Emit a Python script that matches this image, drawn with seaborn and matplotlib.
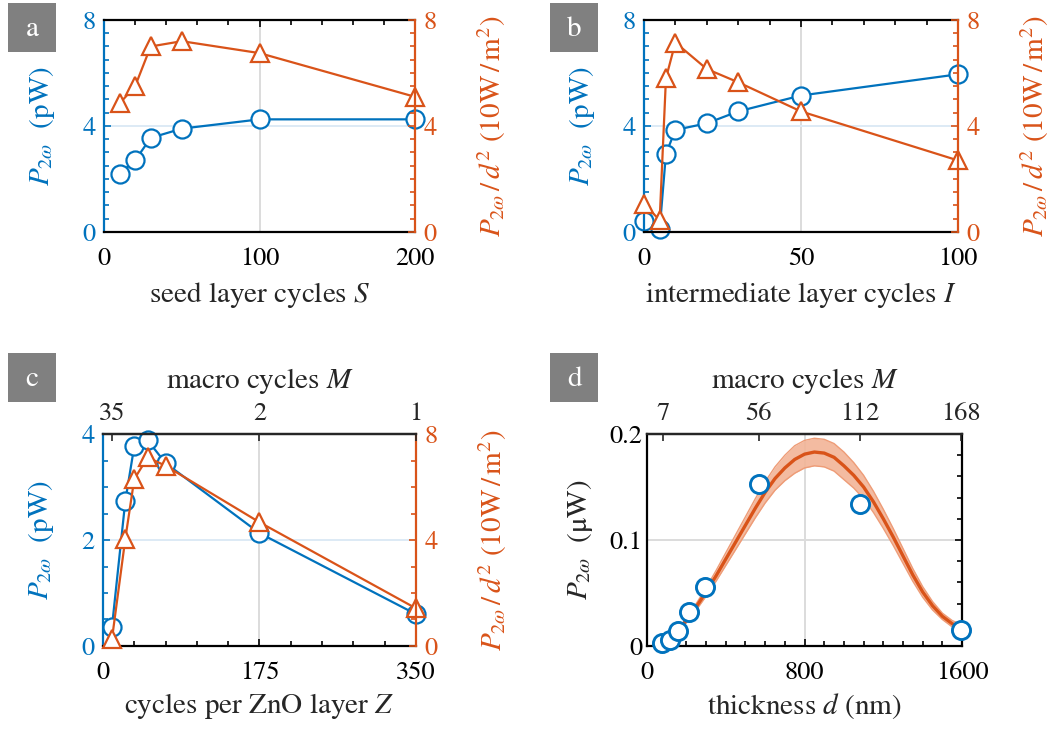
import numpy as np
import pandas as pd
import seaborn as sns
import matplotlib.pyplot as plt
from matplotlib.ticker import MultipleLocator
from matplotlib.patches import Rectangle

blue = '#0072BD'
orange = '#D95319'
grid_gray = '#DCDCDC'
grid_blue = '#DDEAF5'

# (a) seed layer cycles
seed_S = [10, 20, 30, 50, 100, 200]
seed_P = [2.2, 2.7, 3.55, 3.9, 4.25, 4.25]
seed_Pd2 = [4.85, 5.5, 7.0, 7.2, 6.75, 5.1]

# (b) intermediate layer cycles
inter_I = [0, 5, 7, 10, 20, 30, 50, 100]
inter_P = [0.4, 0.1, 2.95, 3.85, 4.1, 4.55, 5.15, 5.95]
inter_Pd2 = [1.05, 0.45, 5.8, 7.15, 6.15, 5.65, 4.55, 2.7]

# (c) cycles per ZnO layer
zno_Z = [10, 25, 35, 50, 70, 175, 350]
zno_P = [0.35, 2.74, 3.77, 3.88, 3.45, 2.13, 0.6]
zno_Pd2 = [0.25, 4.05, 6.3, 7.12, 6.8, 4.67, 1.42]
macro_c_pos = [10, 175, 350]
macro_c_lab = ['35', '2', '1']

# (d) thickness
thick_d = [78, 115, 158, 215, 293, 568, 1081, 1595]
thick_P = [0.0025, 0.0057, 0.0138, 0.0318, 0.056, 0.1526, 0.1337, 0.0155]
macro_d_pos = [80, 568, 1081, 1595]
macro_d_lab = ['7', '56', '112', '168']

# fit curve and confidence band
fit_d = [30, 50, 100, 150, 200, 250, 300, 350, 400, 450, 500, 550, 600, 650,
         700, 750, 800, 850, 900, 950, 1000, 1050, 1100, 1150, 1200, 1250,
         1300, 1350, 1400, 1450, 1500, 1550, 1600]
fit_P = [0.000, 0.002, 0.007, 0.014, 0.024, 0.037, 0.051, 0.066, 0.082, 0.098,
         0.114, 0.130, 0.145, 0.158, 0.168, 0.176, 0.181, 0.183, 0.182, 0.178,
         0.170, 0.161, 0.150, 0.136, 0.120, 0.103, 0.085, 0.067, 0.051, 0.038,
         0.028, 0.021, 0.017]
fit_hi = [0.000, 0.002, 0.008, 0.015, 0.026, 0.040, 0.055, 0.071, 0.088, 0.105,
          0.122, 0.139, 0.155, 0.169, 0.180, 0.189, 0.194, 0.196, 0.195, 0.191,
          0.183, 0.173, 0.161, 0.146, 0.129, 0.111, 0.092, 0.073, 0.056, 0.042,
          0.031, 0.024, 0.020]
fit_lo = [0.000, 0.002, 0.006, 0.013, 0.022, 0.034, 0.047, 0.061, 0.076, 0.091,
          0.106, 0.121, 0.135, 0.147, 0.156, 0.163, 0.168, 0.170, 0.169, 0.165,
          0.157, 0.149, 0.139, 0.126, 0.111, 0.095, 0.078, 0.061, 0.046, 0.034,
          0.025, 0.018, 0.014]

sns.set_style('white')
plt.rcParams['font.family'] = ['STIXGeneral', 'DejaVu Serif']
plt.rcParams['mathtext.fontset'] = 'stix'

TICK_FS = 19
LAB_FS = 21
LW = 1.6

fig = plt.figure(figsize=(10.55, 7.35), dpi=100)

def panel_letter(x, y, letter):
    fig.add_artist(Rectangle((x, y), 0.0455, 0.0667, transform=fig.transFigure,
                             facecolor='#808080', edgecolor='none'))
    fig.text(x + 0.0228, y + 0.031, letter, color='white', fontsize=21,
             ha='center', va='center')

def line_kw(color, marker):
    return dict(color=color, marker=marker, markersize=13, markerfacecolor='white',
                markeredgecolor=color, markeredgewidth=LW, linewidth=LW,
                sort=False, clip_on=False)

def dual_axes(rect, xlim, xmaj, xmin, ylim_l, ymaj_l, ymin_l):
    ax = fig.add_axes(rect)
    axr = ax.twinx()
    ax.set_xlim(xlim)
    ax.set_xticks(xmaj)
    ax.xaxis.set_minor_locator(MultipleLocator(xmin))
    ax.set_ylim(ylim_l)
    ax.set_yticks(ymaj_l)
    ax.yaxis.set_minor_locator(MultipleLocator(ymin_l))
    axr.set_ylim(0, 8)
    axr.set_yticks([0, 4, 8])
    axr.yaxis.set_minor_locator(MultipleLocator(0.5 if ylim_l[1] == 8 else 1))
    ax.xaxis.grid(True, which='major', color=grid_gray, lw=1.4)
    ax.yaxis.grid(True, which='major', color=grid_blue, lw=1.4)
    ax.set_axisbelow(True)
    for s in ['top', 'bottom']:
        ax.spines[s].set_color('black')
        ax.spines[s].set_linewidth(LW)
    ax.spines['left'].set_color(blue)
    ax.spines['left'].set_linewidth(LW)
    ax.spines['right'].set_visible(False)
    for s in ['top', 'bottom', 'left']:
        axr.spines[s].set_visible(False)
    axr.spines['right'].set_color(orange)
    axr.spines['right'].set_linewidth(LW)
    ax.tick_params(axis='x', which='both', direction='in', top=True, colors='black',
                   labelsize=TICK_FS, pad=11)
    ax.tick_params(axis='y', which='both', direction='in', colors=blue,
                   labelsize=TICK_FS, pad=6)
    axr.tick_params(axis='y', which='both', direction='in', colors=orange,
                    labelsize=TICK_FS, pad=6)
    ax.tick_params(which='major', length=5, width=1.2)
    ax.tick_params(which='minor', length=3.5, width=1.2)
    axr.tick_params(which='major', length=5, width=1.2)
    axr.tick_params(which='minor', length=3.5, width=1.2)
    ax.set_ylabel(r'$P_{2\omega}$  (pW)', color=blue, fontsize=LAB_FS, labelpad=18)
    axr.set_ylabel(r'$P_{2\omega}\,/\,d^2$ (10W$\,/\,$m$^2$)', color=orange,
                   fontsize=LAB_FS, labelpad=28)
    return ax, axr

# ---- panel a
ax, axr = dual_axes([0.0986, 0.6844, 0.2948, 0.2884], (0, 200), [0, 100, 200], 20,
                    (0, 8), [0, 4, 8], 0.5)
sns.lineplot(x=seed_S, y=seed_P, ax=ax, **line_kw(blue, 'o'))
sns.lineplot(x=seed_S, y=seed_Pd2, ax=axr, **line_kw(orange, '^'))
ax.set_xlabel(r'seed layer cycles $S$', fontsize=LAB_FS, labelpad=6)
panel_letter(0.0076, 0.929, 'a')

# ---- panel b
ax, axr = dual_axes([0.6104, 0.6844, 0.2976, 0.2884], (0, 100), [0, 50, 100], 10,
                    (0, 8), [0, 4, 8], 0.5)
sns.lineplot(x=inter_I, y=inter_P, ax=ax, **line_kw(blue, 'o'))
sns.lineplot(x=inter_I, y=inter_Pd2, ax=axr, **line_kw(orange, '^'))
ax.set_xlabel(r'intermediate layer cycles $I$', fontsize=LAB_FS, labelpad=6)
panel_letter(0.5213, 0.929, 'b')

# ---- panel c
ax, axr = dual_axes([0.0976, 0.1211, 0.2967, 0.2884], (0, 350), [0, 175, 350], 35,
                    (0, 4), [0, 2, 4], 0.5)
ax.tick_params(axis='x', which='both', top=False)
sns.lineplot(x=zno_Z, y=zno_P, ax=ax, **line_kw(blue, 'o'))
sns.lineplot(x=zno_Z, y=zno_Pd2, ax=axr, **line_kw(orange, '^'))
ax.set_xlabel(r'cycles per ZnO layer $Z$', fontsize=LAB_FS, labelpad=4)
axt = ax.twiny()
axt.set_xlim(0, 350)
axt.set_xticks(macro_c_pos)
axt.set_xticklabels(macro_c_lab)
axt.tick_params(axis='x', direction='in', length=5, width=1.2, labelsize=TICK_FS, pad=6)
for s in ['bottom', 'left', 'right']:
    axt.spines[s].set_visible(False)
axt.spines['top'].set_linewidth(LW)
axt.set_xlabel(r'macro cycles $M$', fontsize=LAB_FS, labelpad=10)
panel_letter(0.0076, 0.453, 'c')

# ---- panel d
ax = fig.add_axes([0.6133, 0.1211, 0.2986, 0.2884])
ax.fill_between(fit_d, fit_lo, fit_hi, color='#F2B497', lw=0, alpha=0.9)
sns.lineplot(x=fit_d, y=fit_hi, ax=ax, color='#EE9C77', linewidth=1.0, sort=False)
sns.lineplot(x=fit_d, y=fit_lo, ax=ax, color='#EE9C77', linewidth=1.0, sort=False)
sns.lineplot(x=fit_d, y=fit_P, ax=ax, color=orange, linewidth=2.4, sort=False)
sns.scatterplot(x=thick_d, y=thick_P, ax=ax, s=170, facecolor='white',
                edgecolor=blue, linewidth=LW * 1.3, marker='o', clip_on=False, zorder=5)
ax.set_xlim(0, 1600)
ax.set_ylim(0, 0.2)
ax.set_xticks([0, 800, 1600])
ax.set_yticks([0, 0.1, 0.2])
ax.set_yticklabels(['0', '0.1', '0.2'])
ax.xaxis.set_minor_locator(MultipleLocator(100))
ax.yaxis.set_minor_locator(MultipleLocator(0.02))
ax.grid(True, which='major', color=grid_gray, lw=1.4)
ax.set_axisbelow(True)
for s in ax.spines.values():
    s.set_color('black')
    s.set_linewidth(LW)
ax.tick_params(axis='both', which='both', direction='in', right=True, colors='black',
               labelsize=TICK_FS)
ax.tick_params(axis='x', pad=11)
ax.tick_params(which='major', length=5, width=1.2)
ax.tick_params(which='minor', length=3.5, width=1.2)
ax.set_xlabel(r'thickness $d$ (nm)', fontsize=LAB_FS, labelpad=4)
ax.set_ylabel(r'$P_{2\omega}$  ($\mathrm{\mu}$W)', fontsize=LAB_FS, labelpad=10)
axt = ax.twiny()
axt.set_xlim(0, 1600)
axt.set_xticks(macro_d_pos)
axt.set_xticklabels(macro_d_lab)
axt.tick_params(axis='x', direction='in', length=5, width=1.2, labelsize=TICK_FS, pad=6)
for s in ['bottom', 'left', 'right']:
    axt.spines[s].set_visible(False)
axt.spines['top'].set_linewidth(LW)
axt.set_xlabel(r'macro cycles $M$', fontsize=LAB_FS, labelpad=10)
panel_letter(0.5213, 0.453, 'd')

fig.savefig('out.png', dpi=100)
